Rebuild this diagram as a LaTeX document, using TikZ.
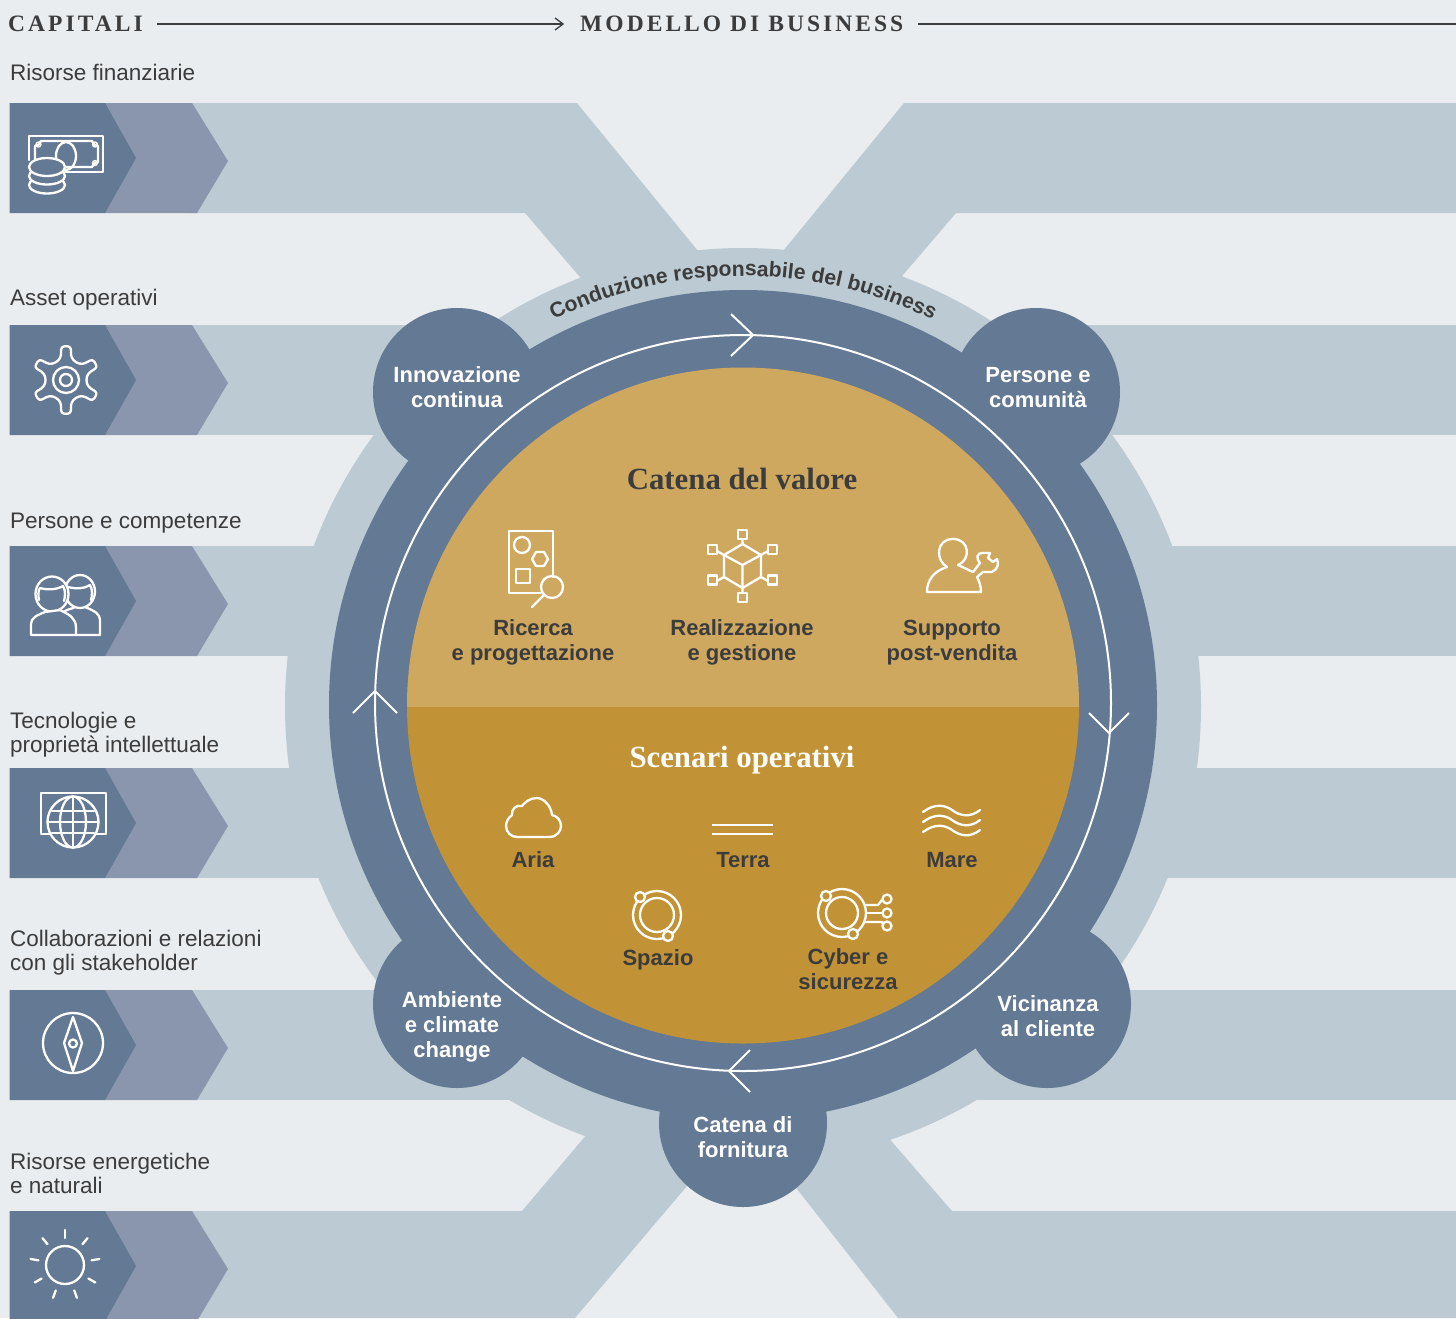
\documentclass[tikz,border=0pt]{standalone}
\usepackage{fontspec}
\usetikzlibrary{decorations.text}
\setmainfont{Liberation Sans}
\newfontfamily\medfont{Liberation Sans Bold}
\newfontfamily\serifb[LetterSpace=13]{Liberation Serif Bold}
\newfontfamily\serift{Liberation Serif Bold}
\definecolor{bgc}{HTML}{E9EDF0}
\definecolor{lightc}{HTML}{BCCAD3}
\definecolor{darkc}{HTML}{637994}
\definecolor{midc}{HTML}{8A96AE}
\definecolor{goldl}{HTML}{CFA85F}
\definecolor{goldd}{HTML}{C29336}
\definecolor{txt}{HTML}{3C3C3C}
\tikzset{
  x=1pt,y=-1pt,
  band/.style={fill=lightc,draw=none},
  chevd/.style={fill=darkc,draw=none},
  chevm/.style={fill=midc,draw=none},
  ico/.style={draw=white,line width=2.3pt,line join=round,line cap=round},
  side/.style={font=\fontsize{22.5}{24}\selectfont,text=txt,align=left,anchor=west,inner sep=0pt},
  lab/.style={font=\medfont\fontsize{22}{25}\selectfont,text=txt,align=center,inner sep=0pt},
  bub/.style={font=\medfont\fontsize{22}{25}\selectfont,text=white,align=center,inner sep=0pt},
  hdr/.style={font=\serifb\fontsize{23.5}{25}\selectfont,text=txt,inner sep=0pt,anchor=west},
  ttl/.style={font=\serift\fontsize{30.8}{32}\selectfont,inner sep=0pt,anchor=base},
  rule/.style={draw=txt,line width=1.4pt},
  disc/.style={fill=darkc,draw=none},
}
\newcommand{\capbox}[1]{%
  \fill[chevm] (105,#1) -- (192,#1) -- (228,#1+58) -- (197,#1+110) -- (105,#1+110) -- cycle;
  \fill[chevd] (9.5,#1) -- (105,#1) -- (136,#1+55) -- (105,#1+110) -- (9.5,#1+110) -- cycle;
}
\begin{document}
\begin{tikzpicture}
\useasboundingbox (0,0) rectangle (1456,1318);
\clip (0,0) rectangle (1456,1318);
\fill[bgc] (0,0) rectangle (1456,1318);
% light bands
\fill[band] (190,103) -- (577,103) -- (743,306) -- (640,347) -- (525,213) -- (190,213) -- cycle;
\fill[band] (1456,103) -- (904,103) -- (743,300) -- (850,337) -- (956,213) -- (1456,213) -- cycle;
\foreach \y in {325,546,768,990}{
  \fill[band] (190,\y) rectangle (743,\y+110);
  \fill[band] (743,\y) rectangle (1456,\y+110);
}
\fill[band] (190,1211) -- (522,1211) -- (620,1095) -- (743,1120) -- (575,1318) -- (190,1318) -- cycle;
\fill[band] (1456,1211) -- (952,1211) -- (860,1105) -- (743,1120) -- (898,1318) -- (1456,1318) -- cycle;
% rings
\fill[lightc] (743,706) circle[radius=458];
\fill[disc] (743,705) ellipse[x radius=414,y radius=415];
\fill[disc] (457,392) circle[radius=84];
\fill[disc] (1036,392) circle[radius=84];
\fill[disc] (457,1004) circle[radius=84];
\fill[disc] (1047,1004) circle[radius=84];
\fill[disc] (743,1123) circle[radius=84];
% gold disc
\begin{scope}
\clip (380,360) rectangle (1110,707);
\fill[goldl] (743,705.5) ellipse[x radius=336,y radius=338];
\end{scope}
\begin{scope}
\clip (380,707) rectangle (1110,1050);
\fill[goldd] (743,705.5) ellipse[x radius=336,y radius=338];
\end{scope}
% inner white circle and its arrows
\draw[white,line width=2pt] (743,703) circle[radius=368];
\draw[ico,line width=2pt,line cap=butt] (731,314) -- (753,335) -- (731,356);
\draw[ico,line width=2pt,line cap=butt] (1089,713) -- (1109,733) -- (1129,713);
\draw[ico,line width=2pt,line cap=butt] (750,1050) -- (729,1071) -- (750,1092);
\draw[ico,line width=2pt,line cap=butt] (353,713) -- (375,691) -- (397,713);
% curved text
\begin{scope}[shift={(743,706)},y=1pt]
\path[decorate,decoration={text along path,text align={center},
  text={|\medfont\fontsize{21.2}{25}\selectfont\color{txt}|Conduzione responsabile del business}}]
  (118:430) arc[start angle=118,end angle=62,radius=430];
\end{scope}
% chevrons
\foreach \y in {103,325,546,768,990,1211}{\capbox{\y}}
% header
\node[hdr] (hcap) at (8,24) {CAPITALI};
\node[hdr] (hmod) at (580,24) {MODELLO DI BUSINESS};
\draw[rule] (157,24) -- (563,24);
\draw[rule,line width=1.3pt] (555,18) -- (563,24) -- (555,30);
\draw[rule] (918,24) -- (1456,24);
% side labels
\node[side] (s1) at (10,72) {Risorse finanziarie};
\node[side] (s2) at (10,300) {Asset operativi};
\node[side] (s3) at (10,523) {Persone e competenze};
\node[side] (s4) at (10,735) {Tecnologie e\\proprietà intellettuale};
\node[side] (s5) at (10,953) {Collaborazioni e relazioni\\con gli stakeholder};
\node[side] (s6) at (10,1173) {Risorse energetiche\\e naturali};
% bubbles
\node[bub] (b1) at (457,387) {Innovazione\\continua};
\node[bub] (b2) at (1038,388) {Persone e\\comunità};
\node[bub] (b3) at (452,1027) {Ambiente\\e climate\\change};
\node[bub] (b4) at (1048,1016) {Vicinanza\\al cliente};
\node[bub] (b5) at (743,1137) {Catena di\\fornitura};
% titles
\node[ttl,text=txt] (t1) at (742,489) {Catena del valore};
\node[ttl,text=white] (t2) at (742,767) {Scenari operativi};
% gold labels
\node[lab] (l1) at (533,642) {Ricerca\\e progettazione};
\node[lab] (l2) at (742,642) {Realizzazione\\e gestione};
\node[lab] (l3) at (952,643) {Supporto\\post-vendita};
\node[lab] (l4) at (533,860) {Aria};
\node[lab] (l5) at (743,860) {Terra};
\node[lab] (l6) at (952,860) {Mare};
\node[lab] (l7) at (658,960) {Spazio};
\node[lab] (l8) at (848,969) {Cyber e\\sicurezza};
% --- icons on capitals ---
% money
\draw[ico] (65,172) -- (103,172) -- (103,136) -- (29,136) -- (29,160);
\draw[ico] (60,167) -- (92,167) .. controls (93,164) and (95,162) .. (98,162) -- (98,146) .. controls (95,146) and (93,144) .. (92,141) -- (41,141) .. controls (40,144) and (38,146) .. (35,146) -- (35,160);
\draw[ico] (66,156) ellipse[x radius=10,y radius=14];
\foreach \p in {(38.5,144.5),(95,144.5),(95,163)} \draw[ico,line width=1.5pt] \p circle[radius=2.4];
\filldraw[ico,fill=darkc] (47,185) ellipse[x radius=18,y radius=8.5];
\filldraw[ico,fill=darkc] (47,176) ellipse[x radius=18,y radius=8.5];
\filldraw[ico,fill=darkc] (47,167) ellipse[x radius=18,y radius=9];
% gear
\begin{scope}[shift={(66,380)},y=1pt]
\draw[ico,rounded corners=3pt]
  (120:20) \foreach \a in {90,30,-30,-90,-150}{
    -- ({\a+13}:23) -- ({\a+8}:34) -- ({\a-8}:34) -- ({\a-13}:23) -- ({\a-30}:20)
  } -- (-197:23) -- (-202:34) -- (-218:34) -- (-223:23) -- cycle;
\draw[ico] (0,0) circle[radius=13];
\draw[ico] (0,0) circle[radius=6];
\end{scope}
% people
\draw[ico] (80,591.5) ellipse[x radius=15,y radius=16.5];
\draw[ico] (68,587) .. controls (76,589) and (84,589) .. (90,585) .. controls (93,590) and (92,596) .. (91,600);
\filldraw[ico,fill=darkc] (52,594) ellipse[x radius=16.5,y radius=17.5];
\draw[ico] (39,600) .. controls (38,595) and (38,591) .. (40,588) .. controls (47,590) and (56,590) .. (63,586) .. controls (66,591) and (65,597) .. (64,601);
\filldraw[ico,fill=darkc] (31,635) -- (31,624) .. controls (31,618) and (37,615) .. (45,612) -- (60,610) .. controls (70,615) and (76,618) .. (76,628) -- (76,635) -- cycle;
\draw[ico] (76,635) -- (100,635) -- (100,620) .. controls (100,614) and (95,611) .. (85,607)
  (75,607) .. controls (72,609) and (68,609) .. (65,611);
% globe
\draw[ico] (41,793) rectangle (106,834);
\filldraw[ico,fill=darkc] (73,822) circle[radius=25.5];
\draw[ico] (73,822) ellipse[x radius=13,y radius=25.5];
\draw[ico] (73,796.5) -- (73,847.5) (47.5,822) -- (98.5,822) (52,811) -- (94,811) (52,833) -- (94,833);
% compass
\draw[ico] (73,1043) circle[radius=30];
\draw[ico] (73,1017) -- (82,1043) -- (73,1071) -- (64,1043) -- cycle;
\draw[ico] (73,1043.5) circle[radius=4];
% sun
\begin{scope}[shift={(65,1265)},y=1pt]
\draw[ico] (0,0) circle[radius=19];
\foreach \a in {90,50,10,-30,-70,-110,-150,170,130}
  \draw[ico] (\a:27) -- (\a:35);
\end{scope}
% --- icons on gold ---
% research
\draw[ico] (553,577) -- (553,531) -- (509,531) -- (509,593) -- (541,593);
\draw[ico] (522,545) circle[radius=8];
\draw[ico] (532,559) -- (536,552) -- (544,552) -- (548,559) -- (544,566) -- (536,566) -- cycle;
\draw[ico] (516,569) rectangle (530,583);
\draw[ico] (552,587) circle[radius=11];
\draw[ico] (544,595) -- (532,607);
% cube
\draw[ico] (742.5,544) -- (761,555) -- (761,577) -- (742.5,588) -- (724,577) -- (724,555) -- cycle;
\draw[ico] (724,555) -- (742.5,565) -- (761,555) (742.5,565) -- (742.5,593);
\foreach \p in {(742.5,534.5),(712.5,549.5),(772.5,549.5),(712.5,580),(772.5,580),(742.5,597.5)}
  \draw[ico] \p ++(-4.5,-4.5) rectangle ++(9,9);
\draw[ico] (742.5,539) -- (742.5,544) (717,551) -- (724,555) (768,551) -- (761,555) (717,581) -- (724,577) (768,581) -- (761,577);
% support
\draw[ico] (947,567) .. controls (935,560) and (936,539) .. (953,539) .. controls (970,539) and (971,560) .. (958,565) -- (973,572);
\draw[ico] (927,592) .. controls (927,580) and (934,571) .. (947,567);
\draw[ico] (927,592) -- (981,592) .. controls (981,586) and (979,581) .. (977,577);
\draw[ico] (973,572) -- (980,563) .. controls (975,557) and (978,553) .. (982,553) -- (990,553) -- (988,558) -- (993,562) -- (997,559) .. controls (999,564) and (998,569) .. (992,572) -- (983,572) -- (977,577);
% cloud
\draw[ico] (517,837) -- (549,837) .. controls (557,837) and (561,831) .. (561,826) .. controls (561,820) and (557,816) .. (552,815) .. controls (551,805) and (543,798) .. (537,798) .. controls (530,798) and (525,802) .. (522,806) .. controls (516,804) and (511,810) .. (512,815) .. controls (508,818) and (506,822) .. (506,826) .. controls (506,832) and (511,837) .. (517,837) -- cycle;
% land
\draw[ico,line cap=butt] (712,825) -- (773,825) (712,834) -- (773,834);
% sea
\foreach \d in {0,10,20}
  \draw[ico] (923,812+\d) .. controls (935,803+\d) and (945,805+\d) .. (952,810+\d) .. controls (960,816+\d) and (970,818+\d) .. (980,810+\d);
% space
\draw[ico] (657,915) circle[radius=24];
\draw[ico] (657,915) circle[radius=17];
\filldraw[ico,fill=goldd] (640,897) circle[radius=5];
\filldraw[ico,fill=goldd] (668,936) circle[radius=5];
% cyber
\draw[ico] (842,913) circle[radius=24];
\draw[ico] (842,913) circle[radius=16];
\filldraw[ico,fill=goldd] (826,896) circle[radius=5];
\filldraw[ico,fill=goldd] (853,934) circle[radius=5];
\draw[ico] (865,905) -- (878,905) -- (882,900);
\draw[ico] (866,913) -- (882,913);
\draw[ico] (865,922) -- (882,922) -- (883,924);
\draw[ico] (887,899) circle[radius=4.5];
\draw[ico] (887,913) circle[radius=4.5];
\draw[ico] (887,926) circle[radius=4.5];
\end{tikzpicture}
\end{document}
